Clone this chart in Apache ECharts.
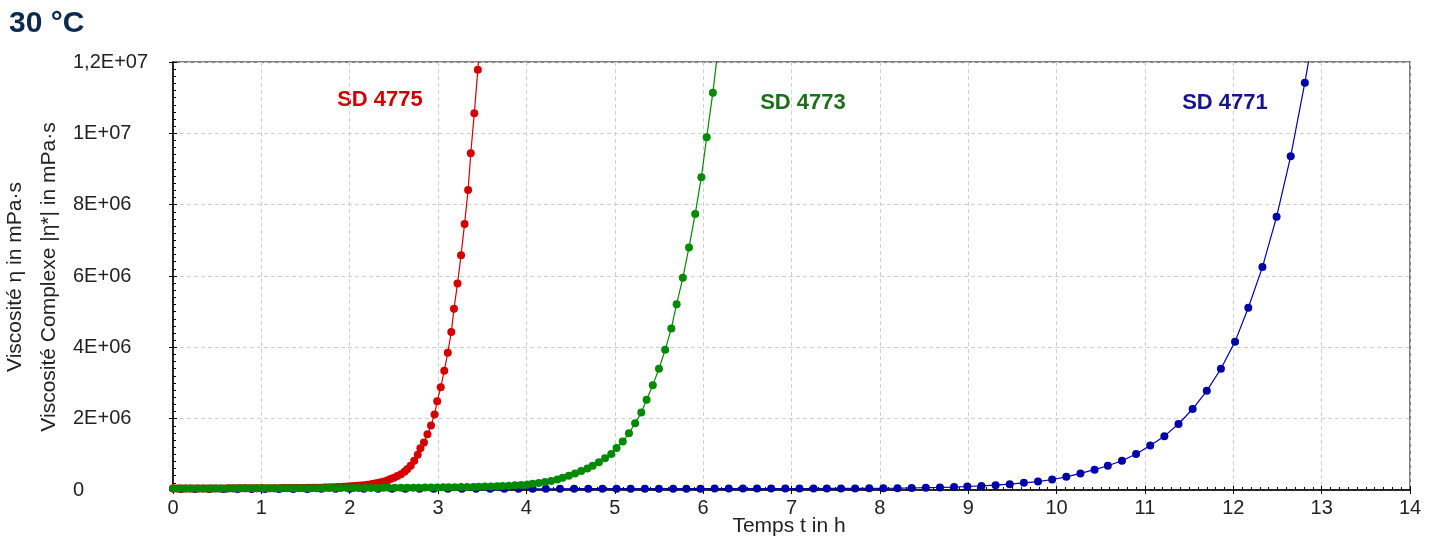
<!DOCTYPE html>
<html>
<head>
<meta charset="utf-8">
<script src="https://cdn.jsdelivr.net/npm/echarts@6/dist/echarts.min.js"></script>
<style>
    html, body { margin: 0; padding: 0; background: #fff; }
    #chart_viscosity { width: 1445px; height: 538px; }
</style>
</head>
<body>
<div id="chart_viscosity"></div>
<script>
// temps en h, viscosité en 1E+06 mPa·s
const redTime = [0, 0.04, 0.08, 0.11, 0.15, 0.19, 0.23, 0.27, 0.30, 0.34,
    0.38, 0.42, 0.45, 0.49, 0.53, 0.57, 0.61, 0.64, 0.68, 0.72,
    0.76, 0.80, 0.83, 0.87, 0.91, 0.95, 0.99, 1.02, 1.06, 1.10,
    1.14, 1.17, 1.21, 1.25, 1.29, 1.33, 1.36, 1.40, 1.44, 1.48,
    1.52, 1.55, 1.59, 1.63, 1.67, 1.71, 1.74, 1.78, 1.82, 1.86,
    1.90, 1.93, 1.97, 2.01, 2.05, 2.08, 2.12, 2.16, 2.20, 2.24,
    2.27, 2.31, 2.35, 2.39, 2.43, 2.46, 2.50, 2.54, 2.58, 2.62,
    2.65, 2.69, 2.73, 2.77, 2.80, 2.84, 2.88, 2.92, 2.96, 2.99,
    3.03, 3.07, 3.11, 3.15, 3.18, 3.22, 3.26, 3.30, 3.34, 3.37,
    3.41, 3.45, 3.49];
const redVisc = [0.040, 0.040, 0.041, 0.041, 0.041, 0.042, 0.042, 0.042, 0.043, 0.043,
    0.043, 0.044, 0.044, 0.044, 0.045, 0.045, 0.045, 0.046, 0.046, 0.046,
    0.047, 0.047, 0.047, 0.048, 0.048, 0.049, 0.049, 0.050, 0.050, 0.051,
    0.051, 0.052, 0.052, 0.053, 0.053, 0.054, 0.055, 0.055, 0.056, 0.057,
    0.058, 0.060, 0.062, 0.064, 0.066, 0.069, 0.071, 0.074, 0.077, 0.082,
    0.087, 0.092, 0.097, 0.102, 0.109, 0.117, 0.125, 0.135, 0.148, 0.162,
    0.178, 0.196, 0.215, 0.237, 0.270, 0.305, 0.345, 0.390, 0.445, 0.510,
    0.580, 0.680, 0.820, 0.990, 1.17, 1.33, 1.56, 1.81, 2.12, 2.49,
    2.88, 3.34, 3.85, 4.43, 5.08, 5.79, 6.58, 7.46, 8.41, 9.44,
    10.56, 11.78, 13.1];

const greenTime = [0, 0.07, 0.14, 0.20, 0.27, 0.34, 0.41, 0.48, 0.54, 0.61,
    0.68, 0.75, 0.81, 0.88, 0.95, 1.02, 1.09, 1.15, 1.22, 1.29,
    1.36, 1.43, 1.49, 1.56, 1.63, 1.70, 1.77, 1.83, 1.90, 1.97,
    2.04, 2.10, 2.17, 2.24, 2.31, 2.38, 2.44, 2.51, 2.58, 2.65,
    2.72, 2.78, 2.85, 2.92, 2.99, 3.06, 3.12, 3.19, 3.26, 3.33,
    3.40, 3.46, 3.53, 3.60, 3.67, 3.73, 3.80, 3.87, 3.94, 4.01,
    4.07, 4.14, 4.21, 4.28, 4.35, 4.41, 4.48, 4.55, 4.62, 4.69,
    4.75, 4.82, 4.89, 4.96, 5.02, 5.09, 5.16, 5.23, 5.30, 5.36,
    5.43, 5.50, 5.57, 5.64, 5.70, 5.77, 5.84, 5.91, 5.98, 6.04,
    6.11, 6.18];
const greenVisc = [0.042, 0.042, 0.043, 0.043, 0.043, 0.044, 0.044, 0.044, 0.045, 0.045,
    0.045, 0.046, 0.046, 0.047, 0.047, 0.047, 0.048, 0.048, 0.049, 0.049,
    0.050, 0.050, 0.051, 0.051, 0.052, 0.053, 0.053, 0.054, 0.055, 0.055,
    0.056, 0.057, 0.058, 0.058, 0.059, 0.060, 0.061, 0.062, 0.063, 0.064,
    0.065, 0.066, 0.068, 0.070, 0.072, 0.074, 0.076, 0.078, 0.081, 0.084,
    0.087, 0.091, 0.095, 0.100, 0.106, 0.113, 0.121, 0.130, 0.142, 0.156,
    0.175, 0.197, 0.225, 0.255, 0.295, 0.340, 0.400, 0.460, 0.530, 0.600,
    0.680, 0.780, 0.890, 1.01, 1.18, 1.36, 1.59, 1.87, 2.17, 2.53,
    2.94, 3.40, 3.93, 4.53, 5.21, 5.95, 6.80, 7.74, 8.77, 9.89,
    11.14, 12.6];

const blueTime = [0.09, 0.25, 0.41, 0.57, 0.73, 0.89, 1.04, 1.20, 1.36, 1.52,
    1.68, 1.84, 2.00, 2.16, 2.32, 2.48, 2.63, 2.79, 2.95, 3.11,
    3.27, 3.43, 3.59, 3.75, 3.91, 4.07, 4.22, 4.38, 4.54, 4.70,
    4.86, 5.02, 5.18, 5.34, 5.50, 5.66, 5.81, 5.97, 6.13, 6.29,
    6.45, 6.61, 6.77, 6.93, 7.09, 7.25, 7.40, 7.56, 7.72, 7.88,
    8.04, 8.20, 8.36, 8.52, 8.68, 8.84, 8.99, 9.15, 9.31, 9.47,
    9.63, 9.79, 9.95, 10.11, 10.27, 10.43, 10.58, 10.74, 10.90, 11.06,
    11.22, 11.38, 11.54, 11.70, 11.86, 12.02, 12.17, 12.33, 12.49, 12.65,
    12.81, 12.97];
const blueVisc = [0.030, 0.030, 0.030, 0.030, 0.030, 0.031, 0.031, 0.031, 0.031, 0.031,
    0.032, 0.032, 0.032, 0.032, 0.032, 0.033, 0.033, 0.033, 0.033, 0.033,
    0.034, 0.034, 0.034, 0.034, 0.035, 0.035, 0.035, 0.035, 0.036, 0.036,
    0.036, 0.036, 0.037, 0.037, 0.037, 0.038, 0.038, 0.038, 0.039, 0.039,
    0.039, 0.040, 0.040, 0.041, 0.041, 0.042, 0.043, 0.044, 0.045, 0.046,
    0.048, 0.050, 0.056, 0.064, 0.072, 0.083, 0.098, 0.115, 0.135, 0.163,
    0.200, 0.235, 0.295, 0.370, 0.465, 0.570, 0.680, 0.820, 1.01, 1.25,
    1.51, 1.85, 2.27, 2.78, 3.40, 4.16, 5.11, 6.25, 7.66, 9.36,
    11.42, 13.7];

const yTickLabels = ['0', '2E+06', '4E+06', '6E+06', '8E+06', '1E+07', '1,2E+07'];
const sampleNames = ['SD 4775', 'SD 4773', 'SD 4771'];

const FONT = 'Arial, "Liberation Sans", sans-serif';

function toPairs(times, values) {
    return times.map((t, i) => [t, values[i]]);
}

function makeSeries(name, times, values, color) {
    return {
        name: name,
        type: 'line',
        data: toPairs(times, values),
        symbol: 'circle',
        symbolSize: 8,
        showAllSymbol: true,
        lineStyle: { color: color, width: 1.2 },
        itemStyle: { color: color },
        clip: true,
        z: 3
    };
}

function drawChart() {
    let chart = echarts.init(document.getElementById('chart_viscosity'));

    let xBase = { type: 'value', min: 0, max: 14, interval: 1, gridIndex: 0 };
    let yBase = { type: 'value', min: 0, max: 12, interval: 2, gridIndex: 0 };

    let option = {
        animation: false,
        backgroundColor: '#fff',
        grid: {
            left: 173, right: 35, top: 62, bottom: 48,
            show: true, borderColor: '#555', borderWidth: 1.5
        },
        xAxis: [
            Object.assign({}, xBase, {
                position: 'bottom',
                axisLine: { show: true, onZero: false, lineStyle: { color: '#000', width: 1.5 } },
                axisTick: { show: true, inside: false, length: 4, lineStyle: { color: '#000' } },
                axisLabel: { color: '#222', fontSize: 20, fontFamily: FONT, margin: 8 },
                splitLine: { show: true, lineStyle: { color: '#cfcfcf', type: [4, 3] } }
            }),
            // ticks intérieurs
            Object.assign({}, xBase, {
                position: 'bottom',
                axisLine: { show: false },
                axisLabel: { show: false },
                splitLine: { show: false },
                axisTick: { show: true, inside: true, length: 4, lineStyle: { color: '#000' } },
                minorTick: { show: true, splitNumber: 10, length: 3, lineStyle: { color: '#000' } }
            })
        ],
        yAxis: [
            Object.assign({}, yBase, {
                position: 'left',
                axisLine: { show: true, onZero: false, lineStyle: { color: '#000', width: 1.5 } },
                axisTick: { show: true, inside: false, length: 4, lineStyle: { color: '#000' } },
                axisLabel: {
                    color: '#222', fontSize: 20, fontFamily: FONT, margin: 100, align: 'left',
                    formatter: function (value) {
                        return yTickLabels[Math.round(value / 2)];
                    }
                },
                splitLine: { show: true, lineStyle: { color: '#cfcfcf', type: [4, 3] } }
            }),
            Object.assign({}, yBase, {
                position: 'left',
                axisLine: { show: false },
                axisLabel: { show: false },
                splitLine: { show: false },
                axisTick: { show: true, inside: true, length: 4, lineStyle: { color: '#000' } },
                minorTick: { show: true, splitNumber: 10, length: 3, lineStyle: { color: '#000' } }
            })
        ],
        series: [
            makeSeries(sampleNames[2], blueTime, blueVisc, '#0000a8'),
            makeSeries(sampleNames[0], redTime, redVisc, '#d40000'),
            makeSeries(sampleNames[1], greenTime, greenVisc, '#008a00')
        ],
        graphic: [
            {
                type: 'text', left: 9, top: 9,
                style: { text: '30 °C', fill: '#0b2a4d', font: 'bold 30px ' + FONT }
            },
            {
                type: 'text', x: 15, y: 277, rotation: Math.PI / 2,
                style: { text: 'Viscosité η in mPa·s', fill: '#222', font: '21px ' + FONT, align: 'center', verticalAlign: 'middle' }
            },
            {
                type: 'text', x: 49, y: 277, rotation: Math.PI / 2,
                style: { text: 'Viscosité Complexe |η*| in mPa·s', fill: '#222', font: '21px ' + FONT, align: 'center', verticalAlign: 'middle' }
            },
            {
                type: 'text', x: 789, y: 526,
                style: { text: 'Temps t in h', fill: '#222', font: '21px ' + FONT, align: 'center', verticalAlign: 'middle' }
            },
            {
                type: 'text', x: 380, y: 100,
                style: { text: sampleNames[0], fill: '#d00000', font: 'bold 22px ' + FONT, align: 'center', verticalAlign: 'middle' }
            },
            {
                type: 'text', x: 803, y: 103,
                style: { text: sampleNames[1], fill: '#1c6e1c', font: 'bold 22px ' + FONT, align: 'center', verticalAlign: 'middle' }
            },
            {
                type: 'text', x: 1225, y: 103,
                style: { text: sampleNames[2], fill: '#16168c', font: 'bold 22px ' + FONT, align: 'center', verticalAlign: 'middle' }
            }
        ]
    };

    chart.setOption(option);
}

drawChart();
</script>
</body>
</html>
